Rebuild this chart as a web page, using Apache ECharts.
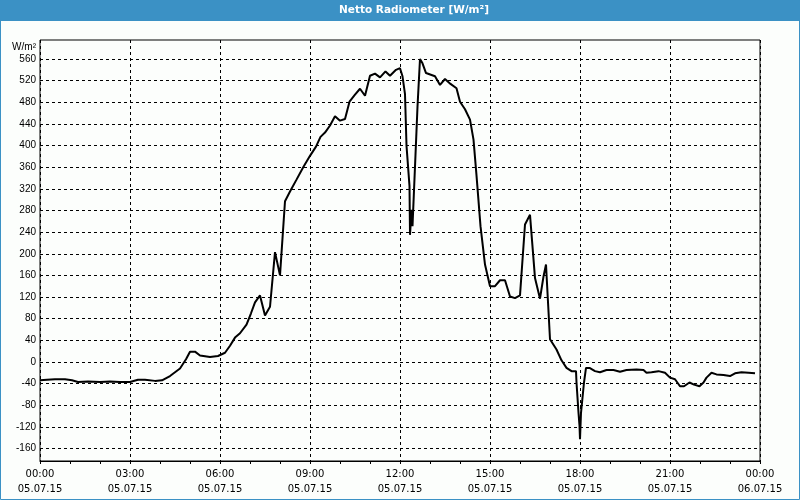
<!DOCTYPE html>
<html><head><meta charset="utf-8">
<script src="https://cdn.jsdelivr.net/npm/echarts@6/dist/echarts.min.js"></script>
<style>html,body{margin:0;padding:0;background:#fcfefc}#c{width:800px;height:500px}</style>
</head><body><div id="c"></div>
<script>
// Measurement times (HH:MM on 05.07.15)
const times = ["00:00","00:14","00:30","00:50","01:04","01:16","01:36","02:00","02:20","02:40","03:00","03:16","03:30","03:50","04:04","04:20","04:40","04:52","05:00","05:10","05:20","05:40","05:56","06:10","06:20","06:30","06:40","06:53","07:02","07:10","07:20","07:30","07:40","07:50","08:00","08:10","08:20","08:33","08:47","09:00","09:12","09:21","09:30","09:40","09:50","10:00","10:10","10:19","10:30","10:40","10:50","11:00","11:10","11:20","11:31","11:40","11:52","12:00","12:05","12:10","12:13","12:19","12:20","12:23","12:25","12:30","12:35","12:40","12:45","12:52","13:10","13:20","13:30","13:41","13:53","14:00","14:10","14:20","14:27","14:33","14:41","14:50","15:00","15:10","15:20","15:30","15:40","15:50","16:00","16:10","16:20","16:30","16:40","16:47","16:52","16:55","17:00","17:13","17:23","17:33","17:43","17:52","17:53","17:57","17:59","18:00","18:02","18:05","18:08","18:12","18:19","18:30","18:40","18:53","19:07","19:20","19:33","19:53","20:07","20:13","20:23","20:37","20:50","21:00","21:10","21:20","21:28","21:39","21:48","21:59","22:07","22:13","22:23","22:33","22:47","23:00","23:10","23:23","23:37","23:50"];
// Net radiation values [W/m²]
const values = [-34,-33,-32,-32,-34,-37,-36,-37,-36,-37,-37,-33,-33,-35,-34,-26,-12,5,19,19,12,9,11,17,30,45,53,69,90,110,123,86,102,203,160,297,315,337,361,381,398,416,424,437,454,446,449,481,494,505,492,529,533,526,537,529,540,543,528,495,400,325,235,281,251,361,472,560,552,534,528,512,523,514,506,481,467,448,411,345,251,180,140,140,151,151,121,118,123,254,272,155,117,158,180,128,42,23,3,-11,-17,-17,-38,-94,-118,-143,-94,-91,-38,-11,-11,-17,-19,-15,-15,-18,-15,-14,-15,-20,-19,-17,-20,-29,-32,-45,-45,-38,-42,-45,-38,-29,-20,-23,-24,-26,-21,-19,-20,-21];
// X tick labels (every 3 hours)
const xTickTimes = ["00:00","03:00","06:00","09:00","12:00","15:00","18:00","21:00","00:00"];
const xTickDates = ["05.07.15","05.07.15","05.07.15","05.07.15","05.07.15","05.07.15","05.07.15","05.07.15","06.07.15"];
const titleText = "Netto Radiometer [W/m²]";
const unitText = "W/m²";

const toHours = s => { const p = s.split(":"); return +p[0] + (+p[1]) / 60; };
const seriesData = times.map((t, i) => [toHours(t), values[i]]);

const chart = echarts.init(document.getElementById('c'));
const dash = { color: '#000', width: 1, type: [3, 3] };
chart.setOption({
  animation: false,
  backgroundColor: '#fcfefc',
  grid: [
    { left: 40, right: 40, top: 40, bottom: 39, show: true, borderColor: '#000', borderWidth: 1, backgroundColor: 'transparent' },
    { left: 40, right: 40, top: 59, bottom: 51.5 }
  ],
  xAxis: [
    {
      gridIndex: 0, type: 'value', min: 0, max: 24, interval: 3,
      axisLine: { lineStyle: { color: '#000', width: 1 } },
      axisTick: { length: 3, lineStyle: { color: '#000' } },
      minorTick: { show: true, splitNumber: 3, length: 3, lineStyle: { color: '#000' } },
      splitLine: { show: true, lineStyle: dash },
      axisLabel: {
        margin: 6, lineHeight: 15, color: '#000', fontFamily: 'DejaVu Sans', fontSize: 10,
        formatter: v => { const i = Math.round(v / 3); return xTickTimes[i] + '\n' + xTickDates[i]; }
      }
    },
    { gridIndex: 1, type: 'value', min: 0, max: 24, show: false }
  ],
  yAxis: [
    { gridIndex: 0, type: 'value', min: 0, max: 1, show: false },
    {
      gridIndex: 1, type: 'value', min: -160, max: 560, interval: 40,
      axisLine: { show: false }, axisTick: { show: false },
      splitLine: { show: true, lineStyle: dash },
      axisLabel: { margin: 4, color: '#000', fontFamily: 'Liberation Sans', fontSize: 10 },
      name: unitText, nameLocation: 'end', nameGap: 7,
      nameTextStyle: { align: 'right', padding: [0, 4, 0, 0], color: '#000', fontFamily: 'Liberation Sans', fontSize: 10 }
    }
  ],
  series: [{
    type: 'line', xAxisIndex: 1, yAxisIndex: 1, data: seriesData,
    symbol: 'none', clip: false,
    lineStyle: { color: '#000', width: 2 }
  }],
  graphic: [
    { type: 'rect', shape: { x: 0, y: 0, width: 800, height: 21 }, style: { fill: '#3b91c5' }, silent: true },
    { type: 'text', x: 414, y: 10.5, style: { text: titleText, fill: '#fff', font: 'bold 10.5px "DejaVu Sans"', textAlign: 'center', textVerticalAlign: 'middle' }, silent: true },
    { type: 'rect', shape: { x: 0.5, y: 0.5, width: 799, height: 499 }, style: { fill: null, stroke: '#3b91c5', lineWidth: 1 }, silent: true }
  ]
});
</script>
</body></html>
